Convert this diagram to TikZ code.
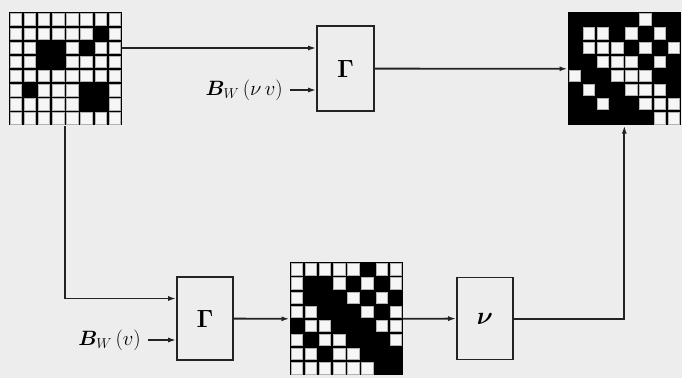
\documentclass[tikz,border=0pt]{standalone}
\usepackage{amsmath,bm}
\usetikzlibrary{arrows.meta}
\definecolor{bgc}{RGB}{237,237,237}
\definecolor{cellw}{RGB}{246,246,246}
\definecolor{ink}{RGB}{35,35,35}
\begin{document}
\begin{tikzpicture}[x=1pt,y=-1pt,
  conn/.style={draw=ink,line width=1.8pt},
  arr/.style={conn,-{Latex[length=8pt,width=5pt]}},
  blk/.style={draw=ink,line width=1.6pt,fill=bgc,minimum width=56pt,inner sep=0pt},
  gridnode/.style={minimum size=113.2pt,inner sep=0pt,anchor=north west},
  wcell/.style={fill=cellw,draw=black!30,line width=0.4pt},
  lbl/.style={font=\fontsize{20}{22}\selectfont,inner sep=0pt}]
\def\cs{14.15}
\def\ins{1.4}
\fill[bgc] (0,0) rectangle (682,378);
\useasboundingbox (0,0) rectangle (682,378);

% ---------- grids ----------
\node[gridnode] (g1) at (8.5,12.2) {};
\node[gridnode] (g2) at (289.5,262) {};
\node[gridnode] (g3) at (567.5,12) {};

% input grid: all white except listed black cells
\fill[black] (8.5,12.2) rectangle ++(113.2,113.2);
\foreach \r in {0,...,7}{
  \foreach \c in {0,...,7}{
    \path[wcell] (8.5+\c*\cs+\ins,12.2+\r*\cs+\ins) rectangle ++(\cs-2*\ins,\cs-2*\ins);
  }}
\foreach \r/\c in {1/6,2/2,2/3,2/5,3/2,3/3,5/1,5/5,5/6,6/5,6/6}{
  \fill[black] (8.5+\c*\cs,12.2+\r*\cs) rectangle ++(\cs,\cs);
}

% middle grid: white cells
\fill[black] (289.5,262) rectangle ++(113.2,113.2);
\foreach \r/\cols in {0/{0,1,2,3,4,6,7},1/{0,3,5,7},2/{0,4,6},3/{0,1,5,7},
                      4/{1,2,6,7},5/{0,2,3,7},6/{0,1,3,4},7/{0,1,2,3,4,5}}{
  \foreach \c in \cols {
    \path[wcell] (289.5+\c*\cs+\ins,262+\r*\cs+\ins) rectangle ++(\cs-2*\ins,\cs-2*\ins);
  }}

% output grid: white cells
\fill[black] (567.5,12) rectangle ++(113.2,113.2);
\foreach \r/\cols in {0/{5},1/{1,2,4,6},2/{1,2,3,5,7},3/{2,3,4,6},
                      4/{0,3,4,5},5/{1,4,5,6},6/{2,5,6,7},7/{6,7}}{
  \foreach \c in \cols {
    \path[wcell] (567.5+\c*\cs+\ins,12+\r*\cs+\ins) rectangle ++(\cs-2*\ins,\cs-2*\ins);
  }}

% ---------- blocks ----------
\node[blk,minimum width=57pt,minimum height=85pt] (gA) at (345.5,68.6)
  {\fontsize{24}{28}\selectfont$\boldsymbol{\Gamma}$};
\node[blk,minimum height=83pt] (gB) at (205,318.6)
  {\fontsize{24}{28}\selectfont$\boldsymbol{\Gamma}$};
\node[blk,minimum height=82pt] (nu) at (485,318.6)
  {\fontsize{26}{30}\selectfont$\boldsymbol{\nu}$};

% ---------- labels ----------
\node[lbl,anchor=east] (bnv) at (283,90) {$\bm{B}_W\,(\nu\,v)$};
\node[lbl,anchor=east] (bv) at (141,340) {$\bm{B}_W\,(v)$};

% ---------- connectors ----------
\coordinate (ya) at (0,48);
\coordinate (yb) at (0,298.5);
\draw[arr] (g1.east |- ya) -- (gA.west |- ya);
\draw[arr] ([xshift=7pt]bnv.east) -- (gA.west |- bnv.east);
\draw[arr] (gA.east) -- (g3.west);
\draw[arr] (g1.south) -- (g1.south |- yb) -- (gB.west |- yb);
\draw[arr] ([xshift=7pt]bv.east) -- (gB.west |- bv.east);
\draw[arr] (gB.east) -- (g2.west);
\draw[arr] (g2.east) -- (nu.west);
\draw[arr] (nu.east) -| (g3.south);
\end{tikzpicture}
\end{document}
